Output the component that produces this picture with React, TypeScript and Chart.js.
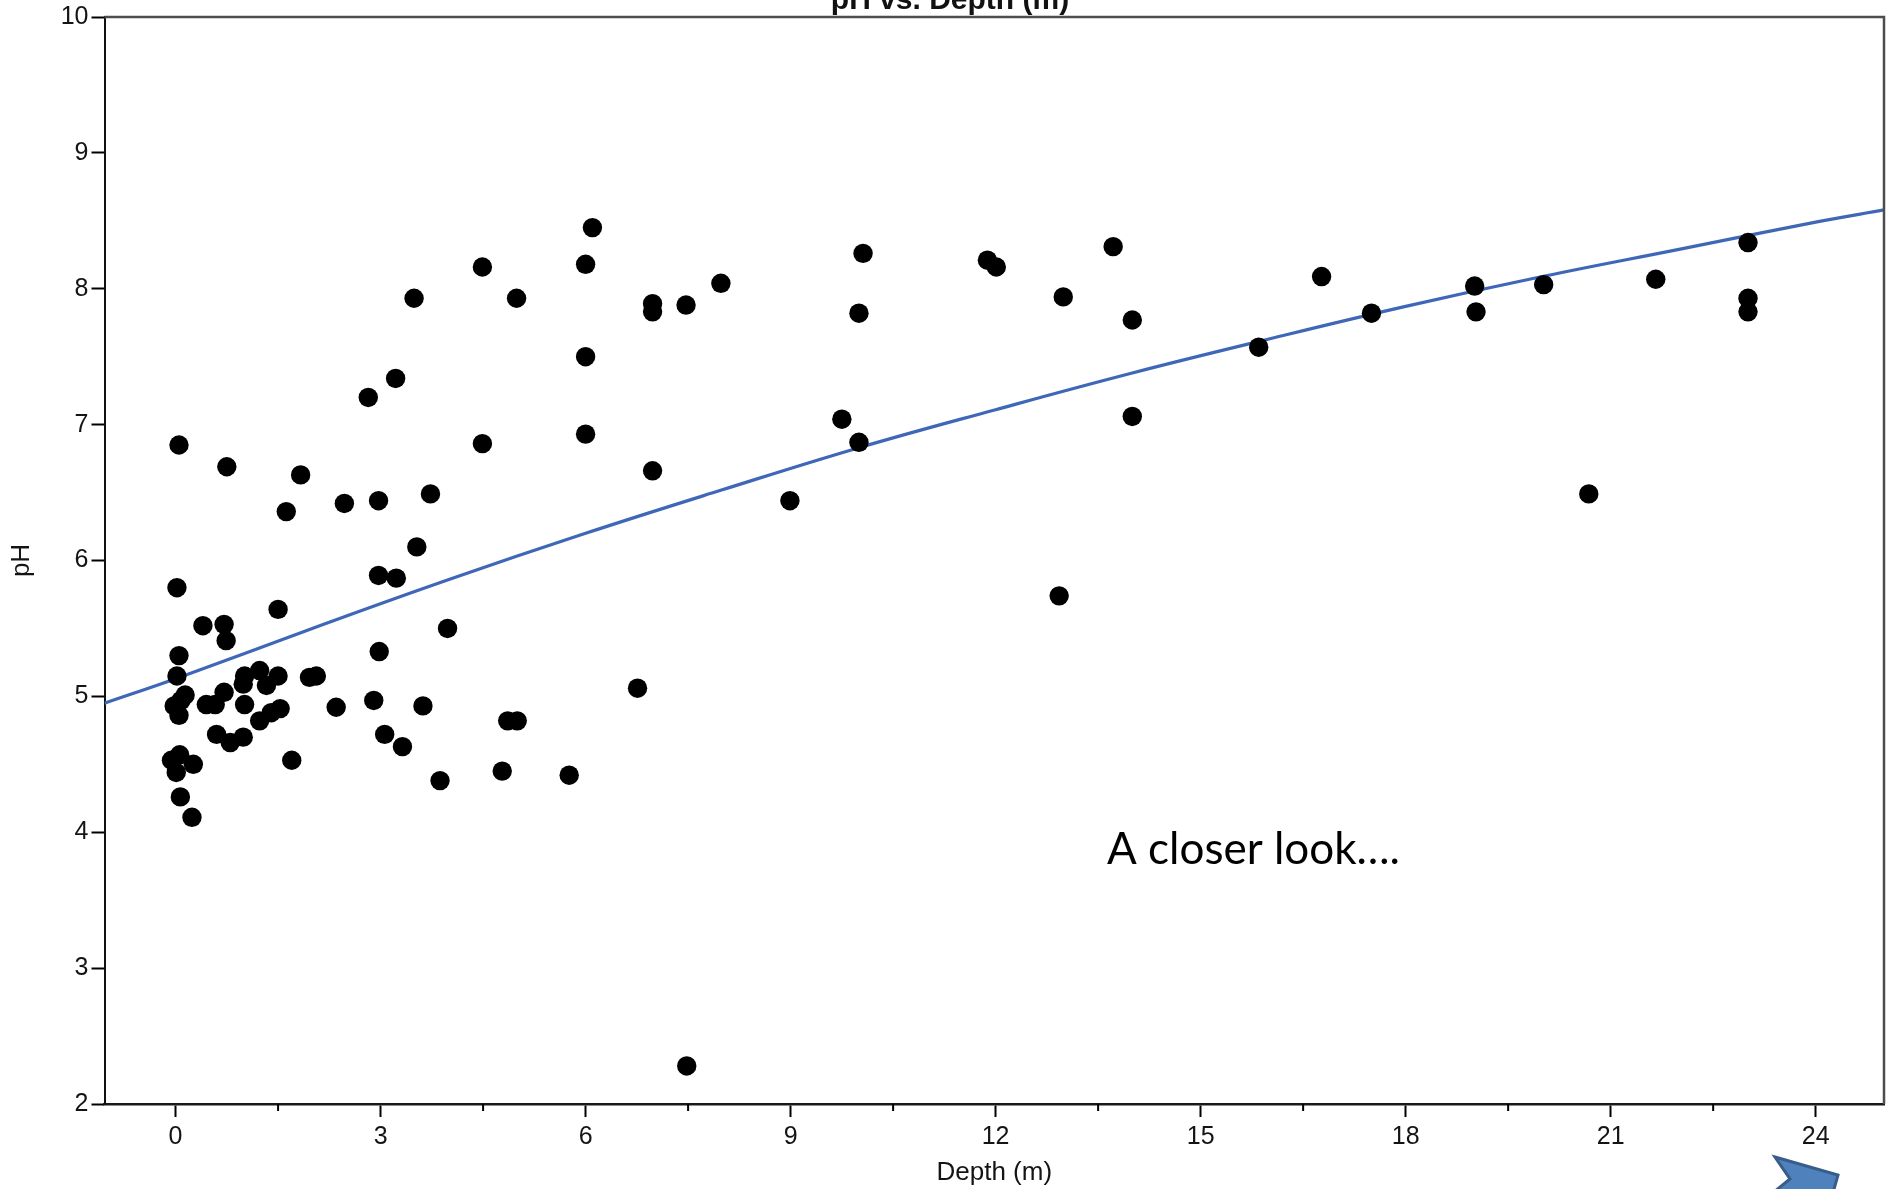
import React, { useEffect, useRef } from "react";
import { Chart, registerables } from "chart.js";

Chart.register(...registerables);

// ---- data ----
const DEPTH = [
  0.05, 0.75, 1.83, 1.62, 2.47, 0.02, 1.5, 0.4, 0.71, 0.74,
  0.05, 0.02, 0.14, 0.08, -0.02, 0.05, 0.45, 0.58, 0.71, 1.01,
  0.99, 1.01, 1.23, 1.33, 1.5, 1.96, 2.06, 1.53, 1.4, 1.23,
  0.6, 0.8, 0.99, 2.35, 2.9, 2.98, 3.98, 3.06, 3.32, 3.62,
  3.87, 1.7, -0.06, 0.06, 0.26, 0.01, 0.07, 0.24, 2.97, 3.23,
  4.78, 4.86, 5.0, 5.76, 6.76, 7.48, 6.1, 6.0, 4.49, 3.49,
  4.99, 6.98, 6.98, 7.47, 7.98, 6.0, 3.22, 2.82, 4.49, 6.0,
  6.98, 2.97, 3.73, 3.53, 8.99, 10.06, 10.0, 11.88, 12.01, 13.72,
  12.99, 14.0, 14.0, 9.75, 10.0, 12.93, 15.85, 16.77, 17.5, 19.01,
  19.03, 20.02, 20.68, 21.66, 23.01, 23.01, 23.01,
];
const PH = [
  6.85, 6.69, 6.63, 6.36, 6.42, 5.8, 5.64, 5.52, 5.53, 5.41,
  5.3, 5.15, 5.01, 4.97, 4.93, 4.86, 4.94, 4.94, 5.03, 5.15,
  5.09, 4.94, 5.19, 5.08, 5.15, 5.14, 5.15, 4.91, 4.88, 4.82,
  4.72, 4.66, 4.7, 4.92, 4.97, 5.33, 5.5, 4.72, 4.63, 4.93,
  4.38, 4.53, 4.53, 4.57, 4.5, 4.44, 4.26, 4.11, 5.89, 5.87,
  4.45, 4.82, 4.82, 4.42, 5.06, 2.28, 8.45, 8.18, 8.16, 7.93,
  7.93, 7.89, 7.83, 7.88, 8.04, 7.5, 7.34, 7.2, 6.86, 6.93,
  6.66, 6.44, 6.49, 6.1, 6.44, 8.26, 7.82, 8.21, 8.16, 8.31,
  7.94, 7.77, 7.06, 7.04, 6.87, 5.74, 7.57, 8.09, 7.82, 8.02,
  7.83, 8.03, 6.49, 8.07, 8.34, 7.93, 7.83,
];
// fitted curve
const FIT_DEPTH = [-1.04, 0, 2, 4, 6, 8, 10, 12, 14, 16, 18, 20, 22, 24, 25];
const FIT_PH = [4.95, 5.13, 5.5, 5.86, 6.2, 6.52, 6.83, 7.11, 7.38, 7.63, 7.87, 8.09, 8.29, 8.49, 8.58];

const X_TICKS = [0, 1.5, 3, 4.5, 6, 7.5, 9, 10.5, 12, 13.5, 15, 16.5, 18, 19.5, 21, 22.5, 24];
const Y_TICKS = [2, 3, 4, 5, 6, 7, 8, 9, 10];

const TITLE = "pH vs. Depth (m)";
const X_TITLE = "Depth (m)";
const Y_TITLE = "pH";
const NOTE = "A closer look\u2026.";

const FONT = "'Liberation Sans', Arial, sans-serif";
const TEXT = "#141414";

const decor = {
  id: "decor",
  afterDraw(chart: any) {
    const { ctx, chartArea: a, scales } = chart;
    ctx.save();
    // top / right frame
    ctx.strokeStyle = "#4d4d4d";
    ctx.lineWidth = 2.5;
    ctx.beginPath();
    ctx.moveTo(a.left, a.top);
    ctx.lineTo(a.right, a.top);
    ctx.lineTo(a.right, a.bottom);
    ctx.stroke();
    // minor x ticks
    const xs = scales.x;
    ctx.strokeStyle = "#000";
    ctx.lineWidth = 2;
    X_TICKS.forEach((v) => {
      if (v % 3 !== 0) {
        const px = xs.getPixelForValue(v);
        ctx.beginPath();
        ctx.moveTo(px, a.bottom);
        ctx.lineTo(px, a.bottom + 7);
        ctx.stroke();
      }
    });
    // clipped title
    ctx.fillStyle = "#111";
    ctx.font = `bold 30px ${FONT}`;
    ctx.textAlign = "center";
    ctx.textBaseline = "alphabetic";
    ctx.fillText(TITLE, 950, 9);
    // slide annotation
    ctx.fillStyle = "#000";
    ctx.font = "44px Lato, 'Open Sans', sans-serif";
    ctx.textAlign = "left";
    ctx.fillText(NOTE, 1107, 864);
    // arrow (decorative)
    ctx.beginPath();
    ctx.moveTo(1775, 1157);
    ctx.lineTo(1838, 1175);
    ctx.lineTo(1831, 1200);
    ctx.lineTo(1764, 1200);
    ctx.lineTo(1790, 1179);
    ctx.closePath();
    ctx.fillStyle = "#4F81BD";
    ctx.fill();
    ctx.strokeStyle = "#385D8A";
    ctx.lineWidth = 3;
    ctx.lineJoin = "miter";
    ctx.stroke();
    ctx.restore();
  },
};

export default function App() {
  const ref = useRef<HTMLCanvasElement | null>(null);

  useEffect(() => {
    if (!ref.current) return;
    const points = DEPTH.map((x, i) => ({ x, y: PH[i] }));
    const fit = FIT_DEPTH.map((x, i) => ({ x, y: FIT_PH[i] }));
    const chart = new Chart(ref.current, {
      type: "scatter",
      data: {
        datasets: [
          {
            label: "pH",
            data: points,
            pointRadius: 9.7,
            pointHoverRadius: 9.7,
            backgroundColor: "#000",
            borderWidth: 0,
            order: 1,
          },
          {
            label: "fit",
            data: fit,
            showLine: true,
            pointRadius: 0,
            borderColor: "#3F67B8",
            borderWidth: 3.2,
            tension: 0.4,
            fill: false,
            order: 2,
          } as any,
        ],
      },
      plugins: [decor],
      options: {
        animation: false,
        responsive: false,
        events: [],
        layout: { autoPadding: false, padding: { top: 17, right: 2, left: 0, bottom: 0 } },
        plugins: {
          legend: { display: false },
          tooltip: { enabled: false },
          title: { display: false },
        },
        scales: {
          x: {
            type: "linear",
            min: -1.04,
            max: 25,
            afterBuildTicks: (s: any) => {
              s.ticks = X_TICKS.map((v) => ({ value: v }));
            },
            afterFit: (s: any) => {
              s.height = 85;
              s.paddingLeft = 0;
              s.paddingRight = 0;
            },
            grid: {
              drawOnChartArea: false,
              drawTicks: true,
              tickLength: 13,
              tickWidth: 2,
              tickColor: (c: any) =>
                c.tick && c.tick.value % 3 === 0 ? "#000" : "rgba(0,0,0,0)",
            },
            border: { display: true, color: "#1a1a1a", width: 2.5 },
            ticks: {
              autoSkip: false,
              maxRotation: 0,
              padding: 8,
              color: TEXT,
              font: { family: FONT, size: 25, lineHeight: 1 },
              callback: (v: any) => (Number(v) % 3 === 0 ? String(v) : ""),
            },
            title: {
              display: true,
              text: X_TITLE,
              color: TEXT,
              font: { family: FONT, size: 26 },
              padding: { top: 0, bottom: 1 },
            },
          },
          y: {
            type: "linear",
            min: 2,
            max: 10,
            afterBuildTicks: (s: any) => {
              s.ticks = Y_TICKS.map((v) => ({ value: v }));
            },
            afterFit: (s: any) => {
              s.width = 104.5;
              s.paddingTop = 0;
              s.paddingBottom = 0;
            },
            grid: {
              drawOnChartArea: false,
              drawTicks: true,
              tickLength: 13,
              tickWidth: 2,
              tickColor: "#000",
            },
            border: { display: true, color: "#111", width: 2 },
            ticks: {
              padding: 3,
              color: TEXT,
              font: { family: FONT, size: 25, lineHeight: 1 },
            },
            title: {
              display: true,
              text: Y_TITLE,
              color: TEXT,
              font: { family: FONT, size: 26 },
              padding: { top: 6, bottom: 0 },
            },
          },
        },
      },
    });
    return () => chart.destroy();
  }, []);

  return (
    <div style={{ position: "fixed", left: 0, top: 0, width: 1886, height: 1189, background: "#fff" }}>
      <canvas ref={ref} width={1886} height={1189} style={{ width: 1886, height: 1189, display: "block" }} />
    </div>
  );
}
